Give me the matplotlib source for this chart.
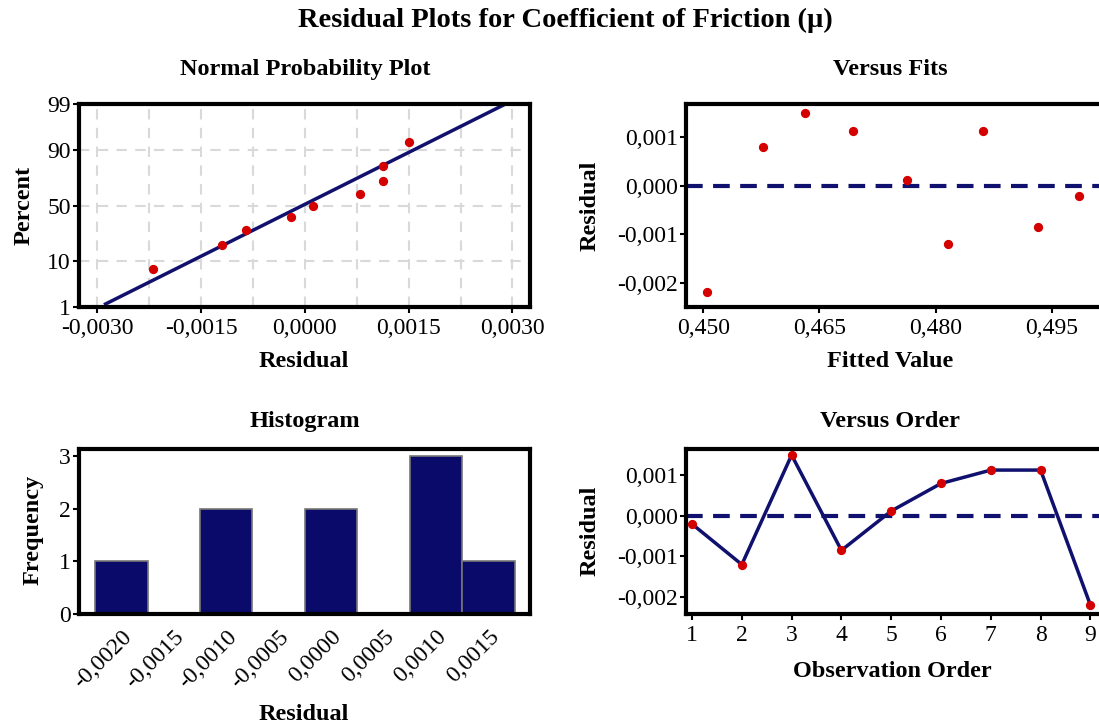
import matplotlib
matplotlib.use("Agg")
import matplotlib.pyplot as plt
from statistics import NormalDist

# ---------------- data ----------------
order = [1, 2, 3, 4, 5, 6, 7, 8, 9]
residuals = [-0.0002, -0.0012, 0.0015, -0.00085, 0.00012, 0.0008, 0.00113, 0.00113, -0.0022]
fitted = [0.4985, 0.4816, 0.4631, 0.4932, 0.4763, 0.4577, 0.4693, 0.4861, 0.4505]

npp_resid = [-0.0022, -0.0012, -0.00085, -0.0002, 0.00012, 0.0008, 0.00113, 0.00113, 0.0015]
npp_percent = [7.4, 18.1, 28.7, 39.4, 50.0, 60.6, 71.3, 81.9, 92.6]
fit_line_x = [-0.00288, 0.0029]
fit_line_pct = [1.2, 99.0]

hist_centers = [-0.0020, -0.0015, -0.0010, -0.0005, 0.0000, 0.0005, 0.0010, 0.0015]
hist_counts = [1, 0, 2, 0, 2, 0, 3, 1]
hist_labels = ["-0,0020", "-0,0015", "-0,0010", "-0,0005", "0,0000", "0,0005", "0,0010", "0,0015"]

npp_xticks = [-0.0030, -0.0015, 0.0, 0.0015, 0.0030]
npp_xlabels = ["-0,0030", "-0,0015", "0,0000", "0,0015", "0,0030"]
npp_xgrid = [-0.0030, -0.00225, -0.0015, -0.00075, 0.0, 0.00075, 0.0015, 0.00225, 0.0030]
npp_yticks = [1, 10, 50, 90, 99]

fits_xticks = [0.450, 0.465, 0.480, 0.495]
fits_xlabels = ["0,450", "0,465", "0,480", "0,495"]
resid_yticks = [0.001, 0.0, -0.001, -0.002]
resid_ylabels = ["0,001", "0,000", "-0,001", "-0,002"]
freq_yticks = [0, 1, 2, 3]

# ---------------- style ----------------
NAVY = "#10106e"
BAR = "#0a0a6b"
RED = "#d40000"
plt.rcParams['font.family'] = ['Liberation Serif', 'DejaVu Serif']
TICK_FS = 17
LAB_FS = 17.5
TIT_FS = 17.5

fig = plt.figure(figsize=(10.99, 7.27), dpi=100)
W, H = 1099.0, 727.0


def fx(px):
    return px / W


def fy(py):
    return 1 - py / H


def ax_at(l, t, r, b):
    return fig.add_axes([fx(l), fy(b), (r - l) / W, (b - t) / H])


def frame(ax):
    for s in ax.spines.values():
        s.set_linewidth(3)
        s.set_color("black")
    ax.tick_params(direction="out", length=4, width=1.5, labelsize=TICK_FS, pad=2)


def labels(ax, xl, xl_x, xl_base, yl, yl_x, yl_y, title, t_x, t_base):
    ax.set_xlabel(xl, fontsize=LAB_FS, fontweight="bold")
    ax.xaxis.set_label_coords(fx(xl_x), fy(xl_base), transform=fig.transFigure)
    ax.xaxis.label.set_va("baseline")
    ax.set_ylabel(yl, fontsize=LAB_FS, fontweight="bold")
    ax.yaxis.set_label_coords(fx(yl_x), fy(yl_y), transform=fig.transFigure)
    ax.yaxis.label.set_va("baseline")
    fig.text(fx(t_x), fy(t_base), title, fontsize=TIT_FS, fontweight="bold",
             ha="center", va="baseline")


nd = NormalDist()
z = lambda p: nd.inv_cdf(p / 100.0)

# ---- Normal probability plot ----
ax1 = ax_at(79, 104, 530, 307)
frame(ax1)
ax1.set_xlim(-0.003264, 0.003254)
ax1.set_ylim(z(1), z(99))
for gx in npp_xgrid:
    ax1.axvline(gx, color="#d9d9d9", lw=1.5, ls=(0, (5, 4)), zorder=0)
for gy in npp_yticks[1:-1]:
    ax1.axhline(z(gy), color="#d9d9d9", lw=1.5, ls=(0, (5, 4)), zorder=0)
ax1.plot(fit_line_x, [z(p) for p in fit_line_pct], color=NAVY, lw=2.5, zorder=2)
ax1.scatter(npp_resid, [z(p) for p in npp_percent], s=32, color=RED, zorder=3)
ax1.set_xticks(npp_xticks)
ax1.set_xticklabels(npp_xlabels)
ax1.set_yticks([z(p) for p in npp_yticks])
ax1.set_yticklabels([str(p) for p in npp_yticks])
ax1.tick_params(axis="x", pad=4)
labels(ax1, "Residual", 304, 367, "Percent", 30, 205, "Normal Probability Plot", 305, 75)

# ---- Versus Fits ----
ax2 = ax_at(686, 104, 1101, 307)
frame(ax2)
ax2.set_xlim(0.44778, 0.50134)
ax2.set_ylim(-0.0025, 0.00169)
ax2.axhline(0, color=NAVY, lw=3, ls=(0, (4, 2.5)), zorder=1)
ax2.scatter(fitted, residuals, s=32, color=RED, zorder=3)
ax2.set_xticks(fits_xticks)
ax2.set_xticklabels(fits_xlabels)
ax2.set_yticks(resid_yticks)
ax2.set_yticklabels(resid_ylabels)
ax2.tick_params(axis="x", pad=4)
labels(ax2, "Fitted Value", 890, 367, "Residual", 596, 206, "Versus Fits", 890, 75)

# ---- Histogram ----
ax3 = ax_at(79, 449, 530, 614)
frame(ax3)
ax3.bar(hist_centers, hist_counts, width=0.0005, color=BAR, edgecolor="#777777", linewidth=1.2, zorder=2)
ax3.set_xlim(-0.0024036, 0.001897)
ax3.set_ylim(0, 3.13)
ax3.set_xticks(hist_centers)
ax3.set_xticklabels(hist_labels, rotation=45, ha="right", rotation_mode="anchor")
ax3.set_yticks(freq_yticks)
ax3.tick_params(axis="x", length=0, pad=9)
labels(ax3, "Residual", 304, 720, "Frequency", 39, 530, "Histogram", 305, 427)

# ---- Versus Order ----
ax4 = ax_at(686, 449, 1101, 614)
frame(ax4)
ax4.set_xlim(0.879, 9.213)
ax4.set_ylim(-0.00242, 0.00165)
ax4.axhline(0, color=NAVY, lw=3, ls=(0, (4, 2.5)), zorder=1)
ax4.plot(order, residuals, color=NAVY, lw=2.5, zorder=2)
ax4.scatter(order, residuals, s=32, color=RED, zorder=3)
ax4.set_xticks(order)
ax4.set_yticks(resid_yticks)
ax4.set_yticklabels(resid_ylabels)
ax4.tick_params(axis="x", pad=4)
labels(ax4, "Observation Order", 892, 677, "Residual", 596, 531, "Versus Order", 890, 427)

fig.text(fx(565), fy(27), "Residual Plots for Coefficient of Friction (µ)",
         fontsize=20.5, fontweight="bold", ha="center", va="baseline")

fig.savefig("out.png", dpi=100)
